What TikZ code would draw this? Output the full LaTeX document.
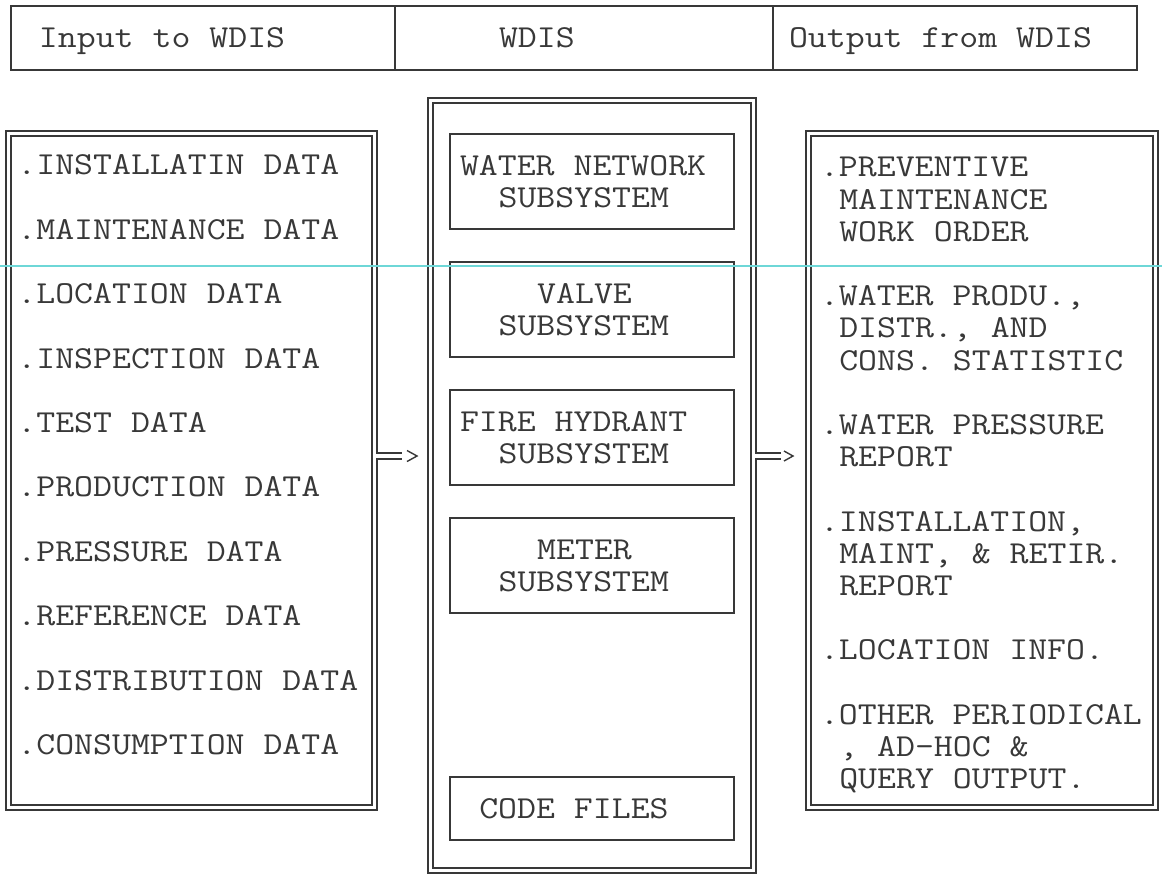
\documentclass[tikz,border=0pt]{standalone}
\usepackage{fontspec}
\usetikzlibrary{calc}
\definecolor{ink}{gray}{0.22}
\definecolor{scanline}{RGB}{110,215,215}
% typewriter text, widened to a 19.3px character pitch
\newcommand\mtxt[1]{\scalebox{1.149}[1]{#1}}
\begin{document}
\begin{tikzpicture}[x=0.5pt,y=-0.5pt,
  every node/.style={inner sep=0pt, outer sep=0pt},
  frame/.style={draw=ink, line width=0.7pt},
  dframe/.style={draw=ink, double=white, double distance=1.8pt, line width=0.7pt},
  txt/.style={anchor=base west, font=\fontsize{16}{19}\selectfont\ttfamily, text=ink},
  flow/.style={draw=ink, line width=0.7pt}]
\useasboundingbox (0,0) rectangle (1162,874);

% ---- header row ----
\node[frame, anchor=north west, minimum width=192pt, minimum height=32pt] (hin)  at (11,6) {};
\node[frame, anchor=north west, minimum width=189pt, minimum height=32pt] (hmid) at (395,6) {};
\node[frame, anchor=north west, minimum width=182pt, minimum height=32pt] (hout) at (773,6) {};
\node[txt] (thin)  at (39,47.8)  {\mtxt{Input to WDIS}};
\node[txt] (thmid) at (499,47.8) {\mtxt{WDIS}};
\node[txt] (thout) at (789,47.8) {\mtxt{Output from WDIS}};

% ---- three double-ruled panels ----
\node[dframe, minimum width=183pt,   minimum height=337pt] (inbox)  at (191.5,470.5) {};
\node[dframe, minimum width=161.5pt, minimum height=385pt] (sysbox) at (592,485.5) {};
\node[dframe, minimum width=173.5pt, minimum height=337pt] (outbox) at (982,470.5) {};

% ---- input list ----
\foreach \t [count=\i from 0] in {.INSTALLATIN DATA,.MAINTENANCE DATA,.LOCATION DATA,.INSPECTION DATA,.TEST DATA,.PRODUCTION DATA,.PRESSURE DATA,.REFERENCE DATA,.DISTRIBUTION DATA,.CONSUMPTION DATA}
  \node[txt] (in\i) at (17.4,{174.8+64.4*\i}) {\mtxt{\t}};

% ---- subsystems ----
\node[frame, minimum width=142pt, minimum height=47.5pt] (ws) at (592,181.5) {};
\node[frame, minimum width=142pt, minimum height=47.5pt] (vs) at (592,309.5) {};
\node[frame, minimum width=142pt, minimum height=47.5pt] (fs) at (592,437.5) {};
\node[frame, minimum width=142pt, minimum height=47.5pt] (ms) at (592,565.5) {};
\node[frame, minimum width=142pt, minimum height=31.5pt] (cf) at (592,808.5) {};
\node[txt] (ws1) at (460,175.3)   {\mtxt{WATER NETWORK}};
\node[txt] (ws2) at (498.6,207.3) {\mtxt{SUBSYSTEM}};
\node[txt] (vs1) at (537.2,303.3) {\mtxt{VALVE}};
\node[txt] (vs2) at (498.6,335.3) {\mtxt{SUBSYSTEM}};
\node[txt] (fs1) at (460,431.3)   {\mtxt{FIRE HYDRANT}};
\node[txt] (fs2) at (498.6,463.3) {\mtxt{SUBSYSTEM}};
\node[txt] (ms1) at (537.2,559.3) {\mtxt{METER}};
\node[txt] (ms2) at (498.6,591.3) {\mtxt{SUBSYSTEM}};
\node[txt] (cf1) at (479.3,818.3) {\mtxt{CODE FILES}};

% ---- output list (row k, column c) ----
\foreach \k/\c/\t in {0/0/{.PREVENTIVE},1/1/{MAINTENANCE},2/1/{WORK ORDER},
  4/0/{.WATER PRODU.,},5/1/{DISTR., AND},6/1/{CONS. STATISTIC},
  8/0/{.WATER PRESSURE},9/1/{REPORT},
  11/0/{.INSTALLATION,},12/1/{MAINT, \& RETIR.},13/1/{REPORT},
  15/0/{.LOCATION INFO.},
  17/0/{.OTHER PERIODICAL},18/1/{, AD-HOC \&},19/1/{QUERY OUTPUT.}}
  \node[txt] (out\k) at ({820+19.3*\c},{176.8+32.2*\k}) {\mtxt{\t}};

% ---- flow arrows: input panel => WDIS => output panel ----
\coordinate (inexit) at (377,456);
\coordinate (sysin)  at (418,456);
\fill[white] (375.9,453.7) rectangle (378.1,458.3);
\draw[flow] (376.3,453) -- (402,453);
\draw[flow] (376.3,459) -- (402,459);
\draw[flow] (407,450.5) -- (sysin -| 417,0) -- (407,461.5);

\coordinate (sysexit) at (756,456);
\coordinate (outin)   at (793,456);
\fill[white] (754.9,453.7) rectangle (757.1,458.3);
\draw[flow] (755.3,453) -- (781,453);
\draw[flow] (755.3,459) -- (781,459);
\draw[flow] (784,451) -- (outin) -- (784,461);

% ---- faint scanner streak ----
\draw[scanline, line width=1pt] (0,266) -- (1162,266);
\end{tikzpicture}
\end{document}
